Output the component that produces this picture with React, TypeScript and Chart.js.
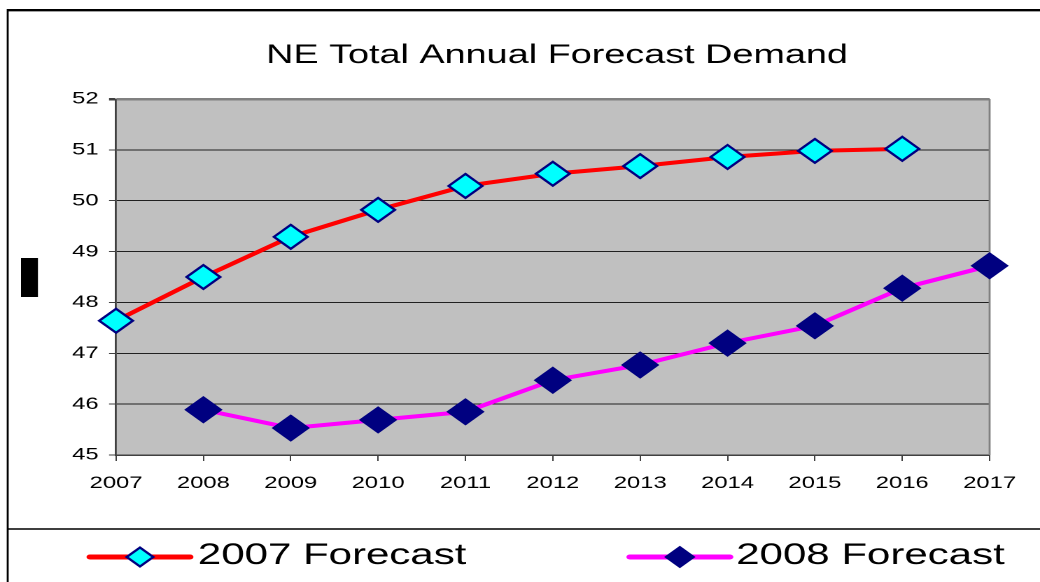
import { useEffect, useRef } from 'react';
import { Chart, registerables } from 'chart.js';

Chart.register(...registerables);

// ---- data ----
const years = ['2007', '2008', '2009', '2010', '2011', '2012', '2013', '2014', '2015', '2016', '2017'];
const forecast2007 = [47.64, 48.5, 49.29, 49.82, 50.29, 50.53, 50.68, 50.86, 50.98, 51.02, null];
const forecast2008 = [null, 45.89, 45.53, 45.69, 45.85, 46.47, 46.77, 47.2, 47.54, 48.28, 48.72];
const yMin = 45;
const yMax = 52;
const yStep = 1;
const titleText = 'NE Total Annual Forecast Demand';
const seriesLabels = ['2007 Forecast', '2008 Forecast'];

// ---- layout ----
const W = 1040;
const H = 582;
const SX = 1.4; // horizontal stretch of the reference
const LW = Math.round(W / SX);
const FONT = '"Liberation Sans", Arial, sans-serif';

function diamond(ctx: any, x: number, y: number, r: number) {
  ctx.beginPath();
  ctx.moveTo(x - r, y);
  ctx.lineTo(x, y - r);
  ctx.lineTo(x + r, y);
  ctx.lineTo(x, y + r);
  ctx.closePath();
}

const decorPlugin = {
  id: 'decor',
  beforeDraw(chart: any) {
    const ctx = chart.ctx;
    const { left, top, right, bottom } = chart.chartArea;
    ctx.save();
    ctx.fillStyle = '#ffffff';
    ctx.fillRect(0, 0, chart.width, chart.height);
    ctx.fillStyle = '#C0C0C0';
    ctx.fillRect(left, top, right - left, bottom - top);
    // outer frame
    ctx.strokeStyle = '#000000';
    ctx.lineWidth = 2;
    ctx.beginPath();
    ctx.moveTo(5, 10);
    ctx.lineTo(chart.width, 10);
    ctx.stroke();
    ctx.strokeStyle = '#a0a0a0';
    ctx.lineWidth = 1;
    ctx.beginPath();
    ctx.moveTo(6, 11.5);
    ctx.lineTo(chart.width, 11.5);
    ctx.stroke();
    ctx.strokeStyle = '#000000';
    ctx.lineWidth = 1.4;
    ctx.beginPath();
    ctx.moveTo(5.5, 9);
    ctx.lineTo(5.5, chart.height);
    ctx.stroke();
    ctx.lineWidth = 1.5;
    ctx.beginPath();
    ctx.moveTo(5, 529);
    ctx.lineTo(chart.width, 529);
    ctx.stroke();
    // black block at left
    ctx.fillStyle = '#000000';
    ctx.fillRect(15, 258, 12.1, 39);
    ctx.restore();
  },
  beforeDatasetsDraw(chart: any) {
    const ctx = chart.ctx;
    const { top, right, bottom } = chart.chartArea;
    ctx.save();
    ctx.strokeStyle = '#808080';
    ctx.lineWidth = 1.4;
    ctx.beginPath();
    ctx.moveTo(right, top);
    ctx.lineTo(right, bottom);
    ctx.stroke();
    ctx.restore();
  },
  afterDraw(chart: any) {
    const ctx = chart.ctx;
    const { left, right } = chart.chartArea;
    ctx.save();
    // title
    ctx.fillStyle = '#000000';
    ctx.font = '27px ' + FONT;
    ctx.textAlign = 'center';
    ctx.textBaseline = 'alphabetic';
    ctx.fillText(titleText, (left + right) / 2 + 3, 63);
    // legend
    const items = [
      { x0: 64.3, x1: 135.7, tx: 141.4 },
      { x0: 450, x1: 521.4, tx: 526 },
    ];
    const ly = 557;
    chart.data.datasets.forEach((ds: any, i: number) => {
      const it = items[i];
      ctx.strokeStyle = ds.borderColor;
      ctx.lineWidth = 5;
      ctx.lineCap = 'round';
      ctx.beginPath();
      ctx.moveTo(it.x0, ly);
      ctx.lineTo(it.x1, ly);
      ctx.stroke();
      diamond(ctx, (it.x0 + it.x1) / 2, ly, i === 0 ? 9.5 : 10.5);
      ctx.fillStyle = ds.pointBackgroundColor;
      ctx.fill();
      ctx.strokeStyle = ds.pointBorderColor;
      ctx.lineWidth = i === 0 ? 2 : 1;
      ctx.lineJoin = 'miter';
      ctx.stroke();
      ctx.fillStyle = '#000000';
      ctx.font = '30px ' + FONT;
      ctx.textAlign = 'left';
      ctx.fillText(ds.label, it.tx, 564);
    });
    ctx.restore();
  },
};

export default function App() {
  const ref = useRef<HTMLCanvasElement>(null);
  useEffect(() => {
    const canvas = ref.current as HTMLCanvasElement;
    const chart = new Chart(canvas, {
      type: 'line',
      data: {
        labels: years,
        datasets: [
          {
            label: seriesLabels[0],
            data: forecast2007,
            borderColor: '#FF0000',
            borderWidth: 4,
            pointStyle: 'rectRot',
            pointRadius: 12,
            pointBackgroundColor: '#00FFFF',
            pointBorderColor: '#000080',
            pointBorderWidth: 2,
            tension: 0,
            fill: false,
          },
          {
            label: seriesLabels[1],
            data: forecast2008,
            borderColor: '#FF00FF',
            borderWidth: 4,
            pointStyle: 'rectRot',
            pointRadius: 13,
            pointBackgroundColor: '#000080',
            pointBorderColor: '#000080',
            pointBorderWidth: 1,
            tension: 0,
            fill: false,
          },
        ],
      },
      options: {
        responsive: false,
        devicePixelRatio: 2,
        animation: false,
        events: [],
        layout: { padding: { top: 99, right: 36, bottom: 87, left: 0 } },
        plugins: {
          legend: { display: false },
          title: { display: false },
          tooltip: { enabled: false },
        },
        scales: {
          x: {
            type: 'category',
            offset: false,
            border: { display: true, color: '#404040', width: 1.5 },
            grid: {
              drawOnChartArea: false,
              drawTicks: true,
              tickLength: 6,
              color: '#404040',
              lineWidth: 1,
            },
            ticks: {
              color: '#000000',
              font: { family: FONT, size: 17 },
              padding: 12,
              maxRotation: 0,
              autoSkip: false,
            },
            afterFit: (s: any) => {
              s.height = 40;
            },
          },
          y: {
            min: yMin,
            max: yMax,
            border: { display: true, color: '#404040', width: 1.4 },
            grid: {
              drawOnChartArea: true,
              drawTicks: true,
              tickLength: 5,
              color: (c: any) => (c.tick && c.tick.value === yMax ? '#808080' : '#202020'),
              lineWidth: (c: any) => (c.tick && c.tick.value === yMax ? 2.5 : 1),
              tickColor: '#404040',
            },
            ticks: {
              stepSize: yStep,
              color: '#000000',
              font: { family: FONT, size: 17 },
              padding: 7.5,
            },
            afterFit: (s: any) => {
              s.width = 82.9;
            },
          },
        },
      },
      plugins: [decorPlugin],
    } as any);
    return () => chart.destroy();
  }, []);
  return (
    <div style={{ position: 'fixed', left: 0, top: 0, width: W, height: H, background: '#ffffff', overflow: 'hidden' }}>
      <canvas ref={ref} width={LW} height={H} style={{ width: W + 'px', height: H + 'px', display: 'block' }} />
    </div>
  );
}
